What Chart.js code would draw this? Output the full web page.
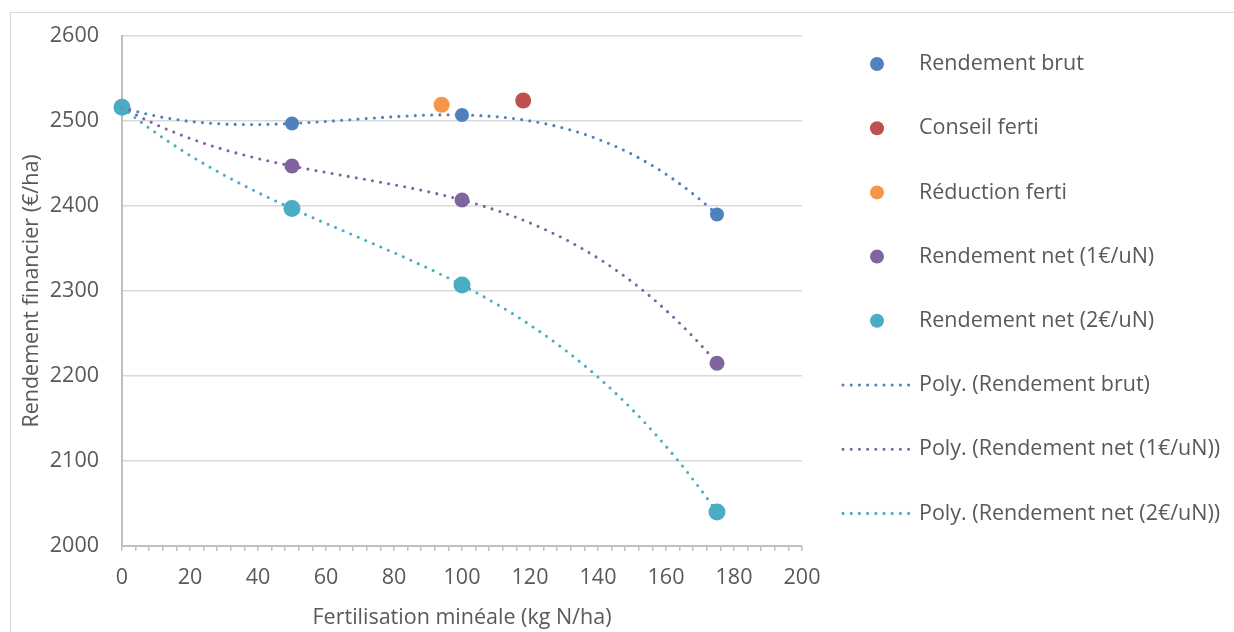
<!DOCTYPE html>
<html>
<head>
<meta charset="utf-8">
<script src="https://cdn.jsdelivr.net/npm/chart.js@4.4.1/dist/chart.umd.min.js"></script>
<style>
  html, body { margin: 0; padding: 0; background: #fff; }
  canvas { display: block; }
</style>
</head>
<body>
<canvas id="rendementChart" width="1234" height="632"></canvas>
<script>
// doses d'azote (kg N/ha) et rendements financiers (€/ha)
const doses = [0, 50, 100, 175];
const rendementBrut = [2516, 2497, 2507, 2390];
const rendementNet1 = [2516, 2447, 2407, 2215];
const rendementNet2 = [2516, 2397, 2307, 2040];
const conseilX = [118];
const conseilY = [2524];
const reductionX = [94];
const reductionY = [2519];

const xMin = 0, xMax = 200, xStep = 4, xLabelEvery = 20;
const yMin = 2000, yMax = 2600, yStep = 100;

const textColor = '#595959';
const baseFont = { family: '"Open Sans", sans-serif', size: 21.5 };

const colors = {
  brut: '#4F81BD',
  conseil: '#C0504D',
  reduction: '#F79646',
  net1: '#8064A2',
  net2: '#4BACC6'
};

const toPoints = (xs, ys) => xs.map((x, i) => ({ x: x, y: ys[i] }));

// régression polynomiale (moindres carrés) comme les courbes de tendance Excel
function polyFit(xs, ys, order) {
  const n = order + 1;
  const A = [];
  for (let r = 0; r < n; r++) {
    const row = [];
    for (let c = 0; c < n; c++) {
      row.push(xs.reduce((s, x) => s + Math.pow(x, r + c), 0));
    }
    row.push(xs.reduce((s, x, i) => s + Math.pow(x, r) * ys[i], 0));
    A.push(row);
  }
  for (let i = 0; i < n; i++) {
    let p = i;
    for (let k = i + 1; k < n; k++) if (Math.abs(A[k][i]) > Math.abs(A[p][i])) p = k;
    [A[i], A[p]] = [A[p], A[i]];
    for (let k = i + 1; k < n; k++) {
      const f = A[k][i] / A[i][i];
      for (let c = i; c <= n; c++) A[k][c] -= f * A[i][c];
    }
  }
  const coef = new Array(n).fill(0);
  for (let i = n - 1; i >= 0; i--) {
    let s = A[i][n];
    for (let c = i + 1; c < n; c++) s -= A[i][c] * coef[c];
    coef[i] = s / A[i][i];
  }
  return coef;
}
const evalPoly = (coef, x) => coef.reduce((s, c, i) => s + c * Math.pow(x, i), 0);

const trends = [
  { label: 'Poly. (Rendement brut)', values: rendementBrut, color: colors.brut },
  { label: 'Poly. (Rendement net (1€/uN))', values: rendementNet1, color: colors.net1 },
  { label: 'Poly. (Rendement net (2€/uN))', values: rendementNet2, color: colors.net2 }
];
const dotted = { width: 3.1, dash: [0, 8.2] };

const framePlugin = {
  id: 'frame',
  beforeDraw(chart) {
    const ctx = chart.ctx;
    ctx.save();
    ctx.fillStyle = '#fff';
    ctx.fillRect(0, 0, chart.width, chart.height);
    ctx.strokeStyle = '#D9D9D9';
    ctx.lineWidth = 1;
    ctx.strokeRect(10.5, 12.5, chart.width + 20, chart.height + 20);
    ctx.restore();
  }
};

const trendPlugin = {
  id: 'polyTrend',
  afterDatasetsDraw(chart) {
    const { ctx, scales: { x, y } } = chart;
    const lo = Math.min(...doses), hi = Math.max(...doses);
    ctx.save();
    trends.forEach(t => {
      const coef = polyFit(doses, t.values, 3);
      ctx.beginPath();
      for (let i = 0; i <= 300; i++) {
        const xv = lo + (hi - lo) * i / 300;
        const px = x.getPixelForValue(xv);
        const py = y.getPixelForValue(evalPoly(coef, xv));
        if (i === 0) ctx.moveTo(px, py); else ctx.lineTo(px, py);
      }
      ctx.strokeStyle = t.color;
      ctx.lineWidth = dotted.width;
      ctx.lineCap = 'round';
      ctx.setLineDash(dotted.dash);
      ctx.stroke();
    });
    ctx.restore();
  }
};

// légende à droite : marqueurs des séries puis courbes de tendance
const legendPlugin = {
  id: 'sideLegend',
  afterDraw(chart) {
    const ctx = chart.ctx;
    const top = 64, gap = 64.2, markX = 877, lineX0 = 843, lineX1 = 911, textX = 919;
    const items = chart.data.datasets.map(ds => ({ type: 'point', label: ds.label, color: ds.backgroundColor }))
      .concat(trends.map(t => ({ type: 'line', label: t.label, color: t.color })));
    ctx.save();
    ctx.font = baseFont.size + 'px ' + baseFont.family;
    ctx.textBaseline = 'middle';
    ctx.textAlign = 'left';
    items.forEach((it, i) => {
      const cy = top + i * gap;
      if (it.type === 'point') {
        ctx.beginPath();
        ctx.arc(markX, cy, 7, 0, Math.PI * 2);
        ctx.fillStyle = it.color;
        ctx.fill();
      } else {
        ctx.beginPath();
        ctx.moveTo(lineX0, cy);
        ctx.lineTo(lineX1, cy);
        ctx.strokeStyle = it.color;
        ctx.lineWidth = dotted.width;
        ctx.lineCap = 'round';
        ctx.setLineDash(dotted.dash);
        ctx.stroke();
        ctx.setLineDash([]);
      }
      ctx.fillStyle = textColor;
      ctx.fillText(it.label, textX, cy);
    });
    ctx.restore();
  }
};

// order : la dernière série est dessinée au-dessus
const pointDataset = (label, xs, ys, color, radius, order) => ({
  label: label,
  data: toPoints(xs, ys),
  backgroundColor: color,
  borderWidth: 0,
  pointRadius: radius,
  pointHoverRadius: radius,
  order: order,
  clip: false
});

new Chart(document.getElementById('rendementChart'), {
  type: 'scatter',
  data: {
    datasets: [
      pointDataset('Rendement brut', doses, rendementBrut, colors.brut, 7, 5),
      pointDataset('Conseil ferti', conseilX, conseilY, colors.conseil, 8, 4),
      pointDataset('Réduction ferti', reductionX, reductionY, colors.reduction, 8, 3),
      pointDataset('Rendement net (1€/uN)', doses, rendementNet1, colors.net1, 7.5, 2),
      pointDataset('Rendement net (2€/uN)', doses, rendementNet2, colors.net2, 8.5, 1)
    ]
  },
  options: {
    responsive: false,
    animation: false,
    layout: { padding: { left: 0, top: 35, right: 432, bottom: 0 } },
    plugins: {
      legend: { display: false },
      tooltip: { enabled: false }
    },
    scales: {
      x: {
        type: 'linear',
        min: xMin,
        max: xMax,
        afterFit: scale => { scale.height = 86; },
        ticks: {
          stepSize: xStep,
          autoSkip: false,
          maxRotation: 0,
          padding: 14,
          color: textColor,
          font: baseFont,
          callback: v => (v % xLabelEvery === 0 ? String(v) : '')
        },
        grid: {
          drawOnChartArea: false,
          drawTicks: true,
          tickLength: 5,
          color: '#BFBFBF',
          lineWidth: 1.5
        },
        border: { color: '#BFBFBF', width: 2 },
        title: {
          display: true,
          text: 'Fertilisation minéale (kg N/ha)',
          color: textColor,
          font: baseFont,
          padding: { top: 0, bottom: 1 }
        }
      },
      y: {
        min: yMin,
        max: yMax,
        afterFit: scale => { scale.width = 122; },
        ticks: {
          stepSize: yStep,
          padding: 23,
          color: textColor,
          font: baseFont,
          callback: v => String(v)
        },
        grid: {
          color: '#D9D9D9',
          lineWidth: 1.5,
          drawTicks: false
        },
        border: { color: '#BFBFBF', width: 2 },
        title: {
          display: true,
          text: 'Rendement financier (€/ha)',
          color: textColor,
          font: baseFont,
          padding: { top: 19, bottom: 0 }
        }
      }
    }
  },
  plugins: [framePlugin, trendPlugin, legendPlugin]
});
</script>
</body>
</html>
